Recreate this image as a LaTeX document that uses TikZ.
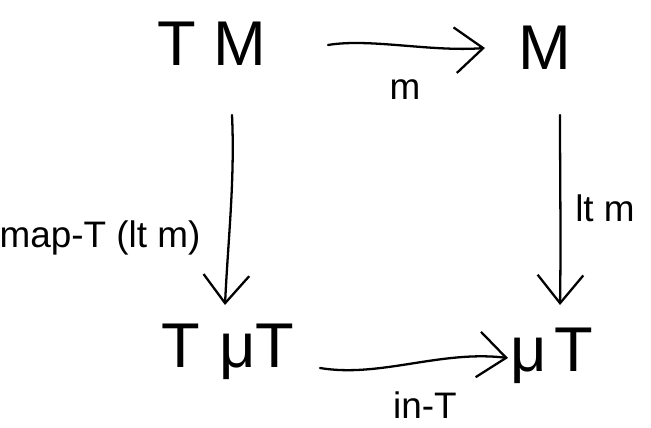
\documentclass[tikz,border=0pt]{standalone}
\usepackage{fontspec}
\setmainfont{Liberation Sans}
\usetikzlibrary{arrows.meta}
\begin{document}
\begin{tikzpicture}[x=0.02cm,y=-0.02cm,
  obj/.style={inner sep=1pt, font=\fontsize{36}{40}\selectfont},
  lab/.style={inner sep=1pt, font=\fontsize{21}{26}\selectfont},
  arr/.style={line width=1.3pt, line cap=round, -{Straight Barb[length=16pt,width=26pt,line width=1.3pt]}}]
\useasboundingbox (0,0) rectangle (651,428);
\node[obj] (TM) at (212,44) {T M};
\node[obj] (M) at (545,48) {M};
\node[obj] (TmuT) at (228,352) {T\hspace{0.3em}μT};
\node[obj] (muT) at (552,356) {μ\hspace{0.12em}T};
\node[lab] (m) at (405,90) {m};
\node[lab] (mapT) at (100,238) {map-T (lt m)};
\node[lab] (ltm) at (605,208) {lt m};
\node[lab] (inT) at (425,405) {in-T};
\coordinate (a1) at (328,45);
\coordinate (a2) at (485,48);
\coordinate (b1) at (232,115);
\coordinate (b2) at (225,305);
\coordinate (c1) at (560,115);
\coordinate (c2) at (560,305);
\coordinate (d1) at (320,368);
\coordinate (d2) at (508,358);
\draw[arr] (a1) .. controls (370,38) and (430,52) .. (a2);
\draw[arr] (b1) .. controls (235,180) and (228,240) .. (b2);
\draw[arr] (c1) .. controls (560,180) and (561,240) .. (c2);
\draw[arr] (d1) .. controls (380,378) and (440,350) .. (d2);
\end{tikzpicture}
\end{document}
